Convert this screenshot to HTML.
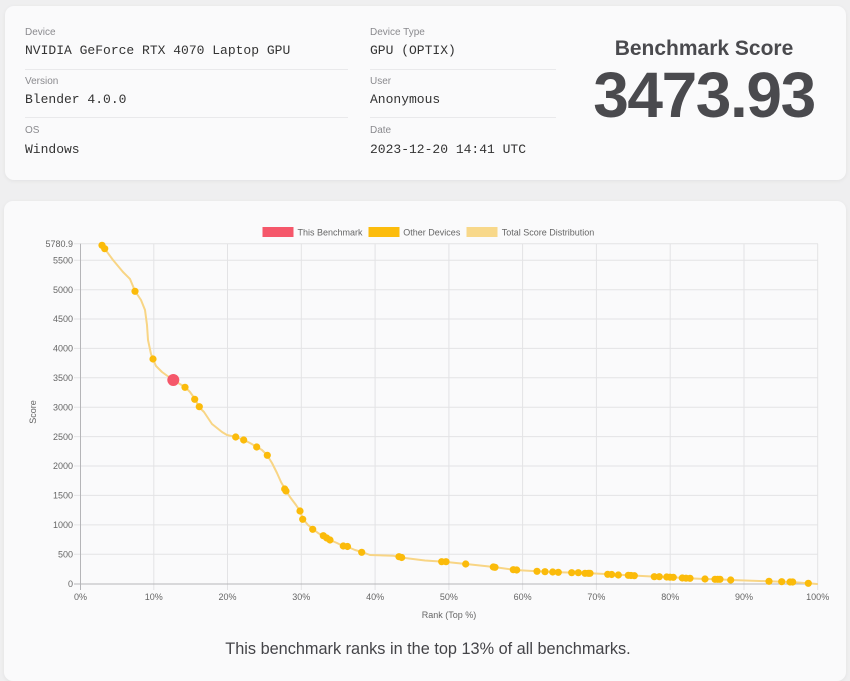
<!DOCTYPE html>
<html>
<head>
<meta charset="utf-8">
<style>
  html,body{margin:0;padding:0;}
  body{width:850px;height:658px;background:#efeff0;position:relative;overflow:hidden;font-family:"Liberation Sans",Arial,sans-serif;}
  .card{position:absolute;background:#fafafb;border-radius:9px;box-shadow:0 1px 4px rgba(0,0,0,0.06);}
  .lbl{position:absolute;font-size:10px;color:#8a8a8e;line-height:12px;white-space:nowrap;}
  .val{position:absolute;font-family:"Liberation Mono",monospace;font-size:13px;color:#333;line-height:16px;white-space:nowrap;}
  .div{position:absolute;height:1px;background:#e9e9eb;}
  .bs{position:absolute;left:590px;width:228px;text-align:center;font-weight:bold;color:#4a4a4e;white-space:nowrap;}
</style>
</head>
<body>
<div class="card" style="left:5px;top:6px;width:841px;height:174px;"></div>
<div class="card" style="left:4px;top:201px;width:842px;height:480px;"></div>

<div class="lbl" style="left:25px;top:27px;">Device</div>
<div class="val" style="left:25px;top:43px;">NVIDIA GeForce RTX 4070 Laptop GPU</div>
<div class="div" style="left:25px;top:69px;width:323px;"></div>
<div class="lbl" style="left:25px;top:76px;">Version</div>
<div class="val" style="left:25px;top:92px;">Blender 4.0.0</div>
<div class="div" style="left:25px;top:117px;width:323px;"></div>
<div class="lbl" style="left:25px;top:125px;">OS</div>
<div class="val" style="left:25px;top:142px;">Windows</div>

<div class="lbl" style="left:370px;top:27px;">Device Type</div>
<div class="val" style="left:370px;top:43px;">GPU (OPTIX)</div>
<div class="div" style="left:370px;top:69px;width:186px;"></div>
<div class="lbl" style="left:370px;top:76px;">User</div>
<div class="val" style="left:370px;top:92px;">Anonymous</div>
<div class="div" style="left:370px;top:117px;width:186px;"></div>
<div class="lbl" style="left:370px;top:125px;">Date</div>
<div class="val" style="left:370px;top:142px;">2023-12-20 14:41 UTC</div>

<div class="bs" style="top:36px;font-size:21px;line-height:26px;">Benchmark Score</div>
<div class="bs" style="top:59px;font-size:64px;line-height:72px;letter-spacing:-1.4px;">3473.93</div>

<svg width="850" height="658" style="position:absolute;left:0;top:0;" xmlns="http://www.w3.org/2000/svg" font-family="Liberation Sans, Arial, sans-serif">
  <!-- legend -->
  <rect x="262.5" y="227" width="31" height="10" fill="#f5576a"/>
  <text x="297.5" y="235.3" font-size="9" fill="#666">This Benchmark</text>
  <rect x="368.5" y="227" width="31" height="10" fill="#fcbc0c"/>
  <text x="403.3" y="235.3" font-size="9" fill="#666">Other Devices</text>
  <rect x="466.5" y="227" width="31" height="10" fill="#f8d88a"/>
  <text x="501.7" y="235.3" font-size="9" fill="#666">Total Score Distribution</text>

  <!-- horizontal grid -->
  <g stroke="#e3e3e5" stroke-width="1">
    <line x1="74" y1="243.8" x2="818" y2="243.8"/>
    <line x1="74" y1="260.3" x2="818" y2="260.3"/>
    <line x1="74" y1="289.7" x2="818" y2="289.7"/>
    <line x1="74" y1="319.0" x2="818" y2="319.0"/>
    <line x1="74" y1="348.4" x2="818" y2="348.4"/>
    <line x1="74" y1="377.8" x2="818" y2="377.8"/>
    <line x1="74" y1="407.2" x2="818" y2="407.2"/>
    <line x1="74" y1="436.6" x2="818" y2="436.6"/>
    <line x1="74" y1="466.0" x2="818" y2="466.0"/>
    <line x1="74" y1="495.4" x2="818" y2="495.4"/>
    <line x1="74" y1="524.9" x2="818" y2="524.9"/>
    <line x1="74" y1="554.3" x2="818" y2="554.3"/>
  </g>
  <!-- vertical grid -->
  <g stroke="#e3e3e5" stroke-width="1">
    <line x1="153.8" y1="243.8" x2="153.8" y2="590"/>
    <line x1="227.5" y1="243.8" x2="227.5" y2="590"/>
    <line x1="301.3" y1="243.8" x2="301.3" y2="590"/>
    <line x1="375.1" y1="243.8" x2="375.1" y2="590"/>
    <line x1="448.9" y1="243.8" x2="448.9" y2="590"/>
    <line x1="522.6" y1="243.8" x2="522.6" y2="590"/>
    <line x1="596.4" y1="243.8" x2="596.4" y2="590"/>
    <line x1="670.2" y1="243.8" x2="670.2" y2="590"/>
    <line x1="744.0" y1="243.8" x2="744.0" y2="590"/>
    <line x1="817.7" y1="243.8" x2="817.7" y2="590"/>
  </g>
  <!-- axes -->
  <line x1="80.5" y1="243.8" x2="80.5" y2="590" stroke="#b5b5b8" stroke-width="1"/>
  <line x1="74" y1="584" x2="818" y2="584" stroke="#b5b5b8" stroke-width="1"/>

  <!-- y tick labels -->
  <g font-size="9" fill="#666" text-anchor="end">
    <text x="73" y="247">5780.9</text>
    <text x="73" y="263.5">5500</text>
    <text x="73" y="292.9">5000</text>
    <text x="73" y="322.2">4500</text>
    <text x="73" y="351.6">4000</text>
    <text x="73" y="381">3500</text>
    <text x="73" y="410.4">3000</text>
    <text x="73" y="439.8">2500</text>
    <text x="73" y="469.2">2000</text>
    <text x="73" y="498.6">1500</text>
    <text x="73" y="528.1">1000</text>
    <text x="73" y="557.5">500</text>
    <text x="73" y="587.2">0</text>
  </g>
  <!-- x tick labels -->
  <g font-size="9" fill="#666" text-anchor="middle">
    <text x="80.5" y="600">0%</text>
    <text x="153.8" y="600">10%</text>
    <text x="227.5" y="600">20%</text>
    <text x="301.3" y="600">30%</text>
    <text x="375.1" y="600">40%</text>
    <text x="448.9" y="600">50%</text>
    <text x="522.6" y="600">60%</text>
    <text x="596.4" y="600">70%</text>
    <text x="670.2" y="600">80%</text>
    <text x="744.0" y="600">90%</text>
    <text x="817.7" y="600">100%</text>
  </g>
  <text x="449" y="618" font-size="9" fill="#666" text-anchor="middle">Rank (Top %)</text>
  <text transform="translate(36,412) rotate(-90)" font-size="9" fill="#666" text-anchor="middle">Score</text>

  <!-- distribution line -->
  <polyline fill="none" stroke="#f8d585" stroke-width="2" stroke-linejoin="round" stroke-linecap="round"
    points="102,245 104.7,248.7 113,260 123,272 130,279 135,291 141,300 145,310 147,325 148,340 151,354 153,359 156,366 162,372 173,380 185,387 190,392 195,399 199,407 204,412 208,418 212,424 217,428 222,432 227,435 236,437 244,440 250,443 257,447 262,450 267,455 272,463 277,473 281,482 285,489 290,497 296,505 300,511 303,519 308,525 313,529 318,533 323,536 330,540 337,543 343,546 348,547 355,550 362,552 370,555 393,555.7 401,557.5 425,560.5 444,561.7 466,564 494,567 515,570 537,571.3 558,572.3 578,572.7 590,573.3 610,574.3 632,575.5 657,576.7 672,577.2 688,578.2 705,579 718,579.3 731,580 769,581.3 782,581.7 791,582 808,583.3 817,584"/>

  <!-- other devices -->
  <g fill="#fbbb0a">
    <circle cx="102" cy="245.3" r="3.6"/><circle cx="104.7" cy="248.7" r="3.6"/>
    <circle cx="135" cy="291.3" r="3.6"/><circle cx="153" cy="359" r="3.6"/>
    <circle cx="185" cy="387.3" r="3.6"/><circle cx="194.7" cy="399.3" r="3.6"/>
    <circle cx="199.3" cy="406.7" r="3.6"/><circle cx="235.7" cy="437" r="3.6"/>
    <circle cx="243.7" cy="440" r="3.6"/><circle cx="256.7" cy="447" r="3.6"/>
    <circle cx="267.3" cy="455.3" r="3.6"/><circle cx="284.7" cy="489" r="3.6"/>
    <circle cx="286" cy="491" r="3.6"/><circle cx="300" cy="511" r="3.6"/>
    <circle cx="302.7" cy="519.3" r="3.6"/><circle cx="312.7" cy="529.3" r="3.6"/>
    <circle cx="323.3" cy="535.7" r="3.6"/><circle cx="326.7" cy="538" r="3.6"/>
    <circle cx="330" cy="540" r="3.6"/><circle cx="343.3" cy="546" r="3.6"/>
    <circle cx="347.5" cy="546.5" r="3.6"/><circle cx="361.7" cy="552.3" r="3.6"/>
    <circle cx="399" cy="556.7" r="3.6"/><circle cx="401.7" cy="557.5" r="3.6"/>
    <circle cx="441.7" cy="561.7" r="3.6"/><circle cx="446" cy="561.7" r="3.6"/>
    <circle cx="465.7" cy="564" r="3.6"/><circle cx="493.3" cy="567" r="3.6"/>
    <circle cx="495" cy="567.3" r="3.6"/><circle cx="513.3" cy="569.7" r="3.6"/>
    <circle cx="516.7" cy="570" r="3.6"/><circle cx="537" cy="571.3" r="3.6"/>
    <circle cx="545" cy="571.7" r="3.6"/><circle cx="552.7" cy="572" r="3.6"/>
    <circle cx="558.3" cy="572.3" r="3.6"/><circle cx="571.7" cy="572.7" r="3.6"/>
    <circle cx="578.3" cy="572.7" r="3.6"/><circle cx="585" cy="573.3" r="3.6"/>
    <circle cx="588.3" cy="573.3" r="3.6"/><circle cx="590" cy="573.3" r="3.6"/>
    <circle cx="607.7" cy="574.3" r="3.6"/><circle cx="611.7" cy="574.5" r="3.6"/>
    <circle cx="618.3" cy="575" r="3.6"/><circle cx="628.3" cy="575.3" r="3.6"/>
    <circle cx="631" cy="575.5" r="3.6"/><circle cx="634.3" cy="575.7" r="3.6"/>
    <circle cx="654.3" cy="576.7" r="3.6"/><circle cx="659.3" cy="576.7" r="3.6"/>
    <circle cx="666.7" cy="577" r="3.6"/><circle cx="670" cy="577.2" r="3.6"/>
    <circle cx="673.3" cy="577.3" r="3.6"/><circle cx="682.3" cy="578" r="3.6"/>
    <circle cx="686" cy="578.2" r="3.6"/><circle cx="690" cy="578.3" r="3.6"/>
    <circle cx="705" cy="579" r="3.6"/><circle cx="715" cy="579.3" r="3.6"/>
    <circle cx="717.7" cy="579.3" r="3.6"/><circle cx="720" cy="579.3" r="3.6"/>
    <circle cx="730.7" cy="580" r="3.6"/><circle cx="769" cy="581.3" r="3.6"/>
    <circle cx="781.7" cy="581.7" r="3.6"/><circle cx="790" cy="582" r="3.6"/>
    <circle cx="792.7" cy="582" r="3.6"/><circle cx="808.3" cy="583.3" r="3.6"/>
  </g>
  <!-- this benchmark -->
  <circle cx="173.3" cy="380" r="6" fill="#f5576a"/>

  <text x="428" y="654" font-size="16.3" fill="#444448" text-anchor="middle">This benchmark ranks in the top 13% of all benchmarks.</text>
</svg>
</body>
</html>
